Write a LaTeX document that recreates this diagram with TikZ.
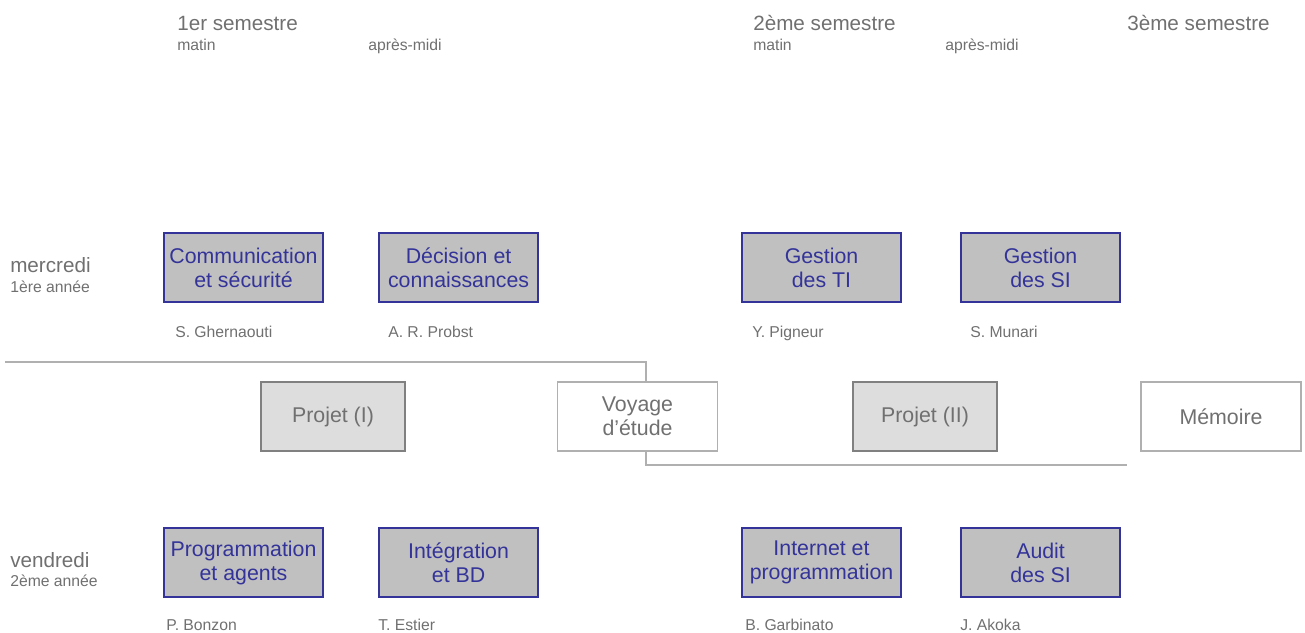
\documentclass[tikz,border=0pt]{standalone}
\usepackage{fontspec}
\setmainfont{Liberation Sans}
\definecolor{coursblue}{HTML}{333399}
\definecolor{coursfill}{HTML}{C0C0C0}
\definecolor{projfill}{HTML}{DDDDDD}
\definecolor{txtgray}{HTML}{707070}
\definecolor{linegray}{HTML}{B0B0B0}
\begin{document}
\begin{tikzpicture}[x=0.75pt,y=-0.75pt]
	\tikzstyle{course} = [rectangle,line width=1.3pt,draw=coursblue,fill=coursfill,text=coursblue,minimum width=119pt,minimum height=51.75pt,align=center,font=\fontsize{16}{18}\selectfont,inner sep=0pt]
	\tikzstyle{projet} = [rectangle,line width=1.3pt,draw=gray,fill=projfill,text=txtgray,minimum width=108pt,minimum height=51.75pt,align=center,font=\fontsize{16}{18}\selectfont,inner sep=0pt]
	\tikzstyle{hors} = [rectangle,line width=1.3pt,draw=linegray,fill=white,text=txtgray,minimum width=120pt,minimum height=51.75pt,align=center,font=\fontsize{16}{18}\selectfont,inner sep=0pt]
	\tikzstyle{big} = [anchor=base west,inner sep=0pt,text=txtgray,font=\fontsize{15.5}{18}\selectfont]
	\tikzstyle{small} = [anchor=base west,inner sep=0pt,text=txtgray,font=\fontsize{11.8}{14}\selectfont]
	\tikzstyle{sep} = [line width=1.3pt,draw=linegray]
	
		\useasboundingbox (0,0) rectangle (1305,632);
		
		% headers
		\node[big] (s1) at (177,30){1er semestre};
		\node[small] (m1) at (177,50){matin};
		\node[small] (a1) at (368,50){après-midi};
		\node[big] (s2) at (753,30){2ème semestre};
		\node[small] (m2) at (753,50){matin};
		\node[small] (a2) at (945,50){après-midi};
		\node[big] (s3) at (1127,30){3ème semestre};
		
		\node[big] (mer) at (10,272){mercredi};
		\node[small] (an1) at (10,292){1ère année};
		\node[big] (ven) at (10,567){vendredi};
		\node[small] (an2) at (10,586){2ème année};
		
		% mercredi
		\node[course] (comm) at (243.5,267.5){Communication\\et sécurité};
		\node[course,anchor=west] (dec) at ([xshift=41pt]comm.east){Décision et\\connaissances};
		\node[course] (gti) at (821.5,267.5){Gestion\\des TI};
		\node[course,anchor=west] (gsi) at ([xshift=44pt]gti.east){Gestion\\des SI};
		
		% vendredi
		\node[course] (prog) at (243.5,562.5){Programmation\\et agents};
		\node[course,anchor=west] (integ) at ([xshift=41pt]prog.east){Intégration\\et BD};
		\node[course] (inet) at (821.5,562.5){Internet et\\programmation};
		\node[course,anchor=west] (audit) at ([xshift=44pt]inet.east){Audit\\des SI};
		
		% projets
		\node[projet] (pj1) at (333,416.5){Projet (I)};
		\node[hors] (voy) at (637.5,416.5){Voyage\\d’étude};
		\node[projet] (pj2) at (925,416.5){Projet (II)};
		\node[hors] (mem) at (1221,416.5){Mémoire};
		
		% enseignants
		\node[small] (n1) at (175,337){S. Ghernaouti};
		\node[small] (n2) at (388,337){A. R. Probst};
		\node[small] (n3) at (752,337){Y. Pigneur};
		\node[small] (n4) at (970,337){S. Munari};
		\node[small] (n5) at (166,630){P. Bonzon};
		\node[small] (n6) at (378,630){T. Estier};
		\node[small] (n7) at (745,630){B. Garbinato};
		\node[small] (n8) at (960,630){J. Akoka};
		
		% separations
		\coordinate (l1) at (5,362);
		\coordinate (l2) at (1127,465);
		\draw[sep] (l1) -| ([xshift=6.4pt]voy.north);
		\draw[sep] ([xshift=6.4pt]voy.south) |- (l2);
		
\end{tikzpicture}
\end{document}
